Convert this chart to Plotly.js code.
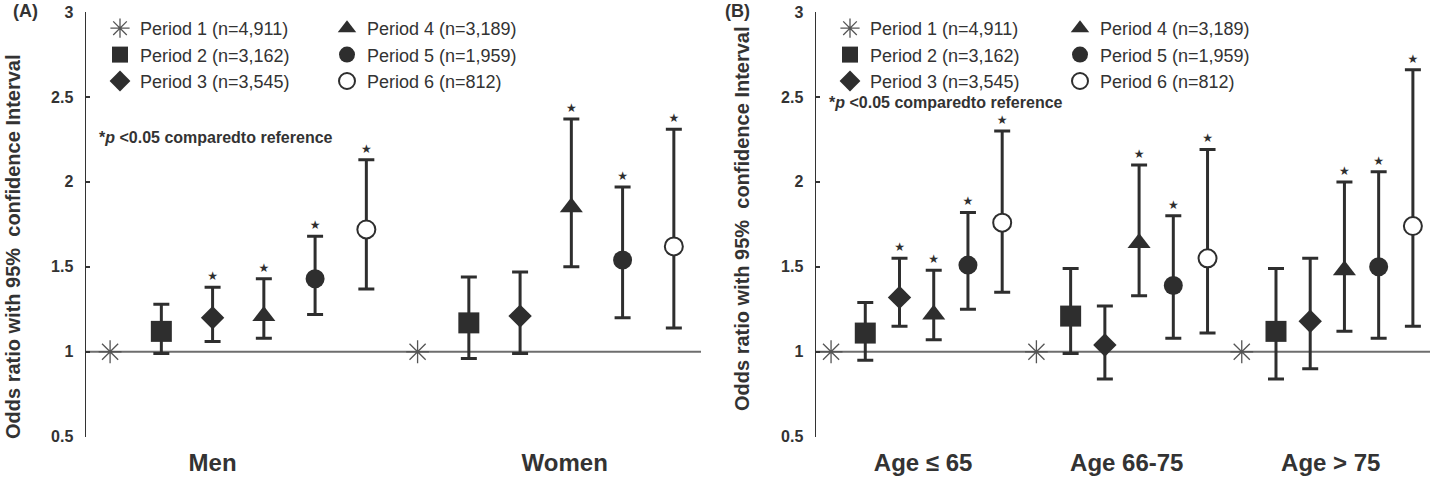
<!DOCTYPE html>
<html>
<head>
<meta charset="utf-8">
<script src="https://cdn.plot.ly/plotly-3.0.1.min.js"></script>
<style>html,body{margin:0;padding:0;background:#fff;}#chart{width:1434px;height:490px;}</style>
</head>
<body>
<div id="chart"></div>
<script>
// ---------- data ----------
const periodNames = ['Period 1 (n=4,911)', 'Period 2 (n=3,162)', 'Period 3 (n=3,545)',
                     'Period 4 (n=3,189)', 'Period 5 (n=1,959)', 'Period 6 (n=812)'];

// Panel A: sex groups
const sexGroups = ['Men', 'Women'];
const orMen   = [1.00, 1.12, 1.20, 1.21, 1.43, 1.72];
const loMen   = [null, 0.99, 1.06, 1.08, 1.22, 1.37];
const hiMen   = [null, 1.28, 1.38, 1.43, 1.68, 2.13];
const sigMen  = [0, 0, 1, 1, 1, 1];
const orWomen  = [1.00, 1.17, 1.21, 1.85, 1.54, 1.62];
const loWomen  = [null, 0.96, 0.99, 1.50, 1.20, 1.14];
const hiWomen  = [null, 1.44, 1.47, 2.37, 1.97, 2.31];
const sigWomen = [0, 0, 0, 1, 1, 1];

// Panel B: age groups
const ageGroups = ['Age \u2264 65', 'Age 66-75', 'Age > 75'];
const orAge1  = [1.00, 1.11, 1.32, 1.22, 1.51, 1.76];
const loAge1  = [null, 0.95, 1.15, 1.07, 1.25, 1.35];
const hiAge1  = [null, 1.29, 1.55, 1.48, 1.82, 2.30];
const sigAge1 = [0, 0, 1, 1, 1, 1];
const orAge2  = [1.00, 1.21, 1.04, 1.64, 1.39, 1.55];
const loAge2  = [null, 0.99, 0.84, 1.33, 1.08, 1.11];
const hiAge2  = [null, 1.49, 1.27, 2.10, 1.80, 2.19];
const sigAge2 = [0, 0, 0, 1, 1, 1];
const orAge3  = [1.00, 1.12, 1.18, 1.48, 1.50, 1.74];
const loAge3  = [null, 0.84, 0.90, 1.12, 1.08, 1.15];
const hiAge3  = [null, 1.49, 1.55, 2.00, 2.06, 2.66];
const sigAge3 = [0, 0, 0, 1, 1, 1];

// ---------- styling ----------
const DARK = '#2e2e2e';
const TXT = '#333333';
const markerStyles = [
  {symbol: 'asterisk-open', size: 19, color: '#555', line: {color: '#555', width: 1.3}},
  {symbol: 'square', size: 21, color: DARK, line: {width: 0}},
  {symbol: 'diamond', size: 18, color: DARK, line: {width: 0}},
  {symbol: 'triangle-up', size: 20, color: DARK, line: {width: 0}},
  {symbol: 'circle', size: 19, color: DARK, line: {width: 0}},
  {symbol: 'circle', size: 18, color: '#ffffff', line: {color: DARK, width: 2}}
];

const panels = [
  {xa: 'x', ya: 'y', groups: [
     {or: orMen, lo: loMen, hi: hiMen, sig: sigMen},
     {or: orWomen, lo: loWomen, hi: hiWomen, sig: sigWomen}],
   legends: ['legend', 'legend2']},
  {xa: 'x2', ya: 'y2', groups: [
     {or: orAge1, lo: loAge1, hi: hiAge1, sig: sigAge1},
     {or: orAge2, lo: loAge2, hi: hiAge2, sig: sigAge2},
     {or: orAge3, lo: loAge3, hi: hiAge3, sig: sigAge3}],
   legends: ['legend3', 'legend4']}
];

const traces = [];
panels.forEach(function (pan) {
  for (let p = 0; p < periodNames.length; p++) {
    const xs = [], ys = [], ep = [], em = [];
    pan.groups.forEach(function (g, gi) {
      xs.push(gi * 6 + p + 1);
      ys.push(g.or[p]);
      ep.push(g.hi[p] === null ? 0 : g.hi[p] - g.or[p]);
      em.push(g.lo[p] === null ? 0 : g.or[p] - g.lo[p]);
    });
    traces.push({
      type: 'scatter', mode: 'markers', name: periodNames[p],
      x: xs, y: ys, xaxis: pan.xa, yaxis: pan.ya,
      legend: p < 3 ? pan.legends[0] : pan.legends[1],
      marker: markerStyles[p],
      error_y: p === 0 ? {visible: false} : {type: 'data', symmetric: false, array: ep, arrayminus: em,
                color: DARK, thickness: 3, width: 8},
      cliponaxis: false, hoverinfo: 'x+y'
    });
  }
  // significance stars, placed above the upper CI cap
  const sx = [], sy = [];
  pan.groups.forEach(function (g, gi) {
    for (let p = 0; p < periodNames.length; p++) {
      if (g.sig[p]) { sx.push(gi * 6 + p + 1); sy.push(g.hi[p]); }
    }
  });
  traces.push({
    type: 'scatter', mode: 'markers+text', x: sx, y: sy, xaxis: pan.xa, yaxis: pan.ya,
    marker: {size: 5, color: 'rgba(0,0,0,0)', line: {width: 0}},
    text: sx.map(function () { return '\u2605'; }), textposition: 'top center',
    textfont: {family: 'DejaVu Sans', size: 12, color: DARK},
    showlegend: false, cliponaxis: false, hoverinfo: 'skip'
  });
});

const W = 1434, H = 490;
const px = function (v) { return v / W; };
const py = function (v) { return 1 - v / H; };

const yaxisBase = {
  range: [0.5, 3], dtick: 0.5, tick0: 0.5, showgrid: false, zeroline: false,
  showline: true, linecolor: TXT, linewidth: 1.5,
  ticks: 'inside', ticklen: 4, tickwidth: 1.5, tickcolor: TXT,
  tickfont: {family: 'Arial', size: 16, color: TXT, weight: 'bold'},
  ticklabelstandoff: 8, domain: [py(436.7), py(12)]
};
const xaxisBase = {
  showgrid: false, zeroline: false, showline: false, ticks: '',
  tickfont: {family: 'Arial', size: 24, color: TXT, weight: 'bold'},
  ticklabelstandoff: 9
};

const legendBase = {
  bgcolor: 'rgba(0,0,0,0)', borderwidth: 0, xanchor: 'left', yanchor: 'top',
  y: py(10), font: {family: 'Arial', size: 18, color: TXT}, itemclick: false
};

const annFont = {family: 'Arial', size: 16, color: TXT, weight: 'bold'};

const layout = {
  width: W, height: H, margin: {l: 0, r: 0, t: 0, b: 0},
  paper_bgcolor: '#ffffff', plot_bgcolor: '#ffffff', showlegend: true,
  xaxis: Object.assign({}, xaxisBase, {domain: [px(86), px(701)], range: [0.53, 12.53],
           tickvals: [3.0, 9.87], ticktext: sexGroups, anchor: 'y'}),
  yaxis: Object.assign({}, yaxisBase, {anchor: 'x'}),
  xaxis2: Object.assign({}, xaxisBase, {domain: [px(816), px(1430)], range: [0.56, 18.5],
           tickvals: [3.69, 9.64, 15.6], ticktext: ageGroups, anchor: 'y2'}),
  yaxis2: Object.assign({}, yaxisBase, {anchor: 'x2'}),
  legend:  Object.assign({}, legendBase, {x: px(100)}),
  legend2: Object.assign({}, legendBase, {x: px(327)}),
  legend3: Object.assign({}, legendBase, {x: px(830)}),
  legend4: Object.assign({}, legendBase, {x: px(1060)}),
  shapes: [
    {type: 'line', xref: 'x domain', yref: 'y', x0: 0, x1: 1, y0: 1, y1: 1,
     line: {color: '#6e6e6e', width: 2}, layer: 'below'},
    {type: 'line', xref: 'x2 domain', yref: 'y2', x0: 0, x1: 1, y0: 1, y1: 1,
     line: {color: '#6e6e6e', width: 2}, layer: 'below'}
  ],
  annotations: [
    {text: '(A)', xref: 'paper', yref: 'paper', x: px(25), y: py(11), xanchor: 'center', yanchor: 'middle',
     showarrow: false, font: {family: 'Arial', size: 18, color: TXT, weight: 'bold'}},
    {text: '(B)', xref: 'paper', yref: 'paper', x: px(737), y: py(11), xanchor: 'center', yanchor: 'middle',
     showarrow: false, font: {family: 'Arial', size: 18, color: TXT, weight: 'bold'}},
    {text: 'Odds ratio with 95%  confidence Interval', xref: 'paper', yref: 'paper',
     x: px(13), y: py(247), xanchor: 'center', yanchor: 'middle', textangle: -90,
     showarrow: false, font: {family: 'Arial', size: 20, color: TXT, weight: 'bold'}},
    {text: 'Odds ratio with 95%  confidence Interval', xref: 'paper', yref: 'paper',
     x: px(742), y: py(219), xanchor: 'center', yanchor: 'middle', textangle: -90,
     showarrow: false, font: {family: 'Arial', size: 20, color: TXT, weight: 'bold'}},
    {text: '*<i>p</i> <0.05 comparedto reference', xref: 'paper', yref: 'paper',
     x: px(97), y: py(137), xanchor: 'left', yanchor: 'middle', showarrow: false, font: annFont},
    {text: '*<i>p</i> <0.05 comparedto reference', xref: 'paper', yref: 'paper',
     x: px(827), y: py(102), xanchor: 'left', yanchor: 'middle', showarrow: false, font: annFont}
  ]
};

Plotly.newPlot('chart', traces, layout, {staticPlot: true});
</script>
</body>
</html>
